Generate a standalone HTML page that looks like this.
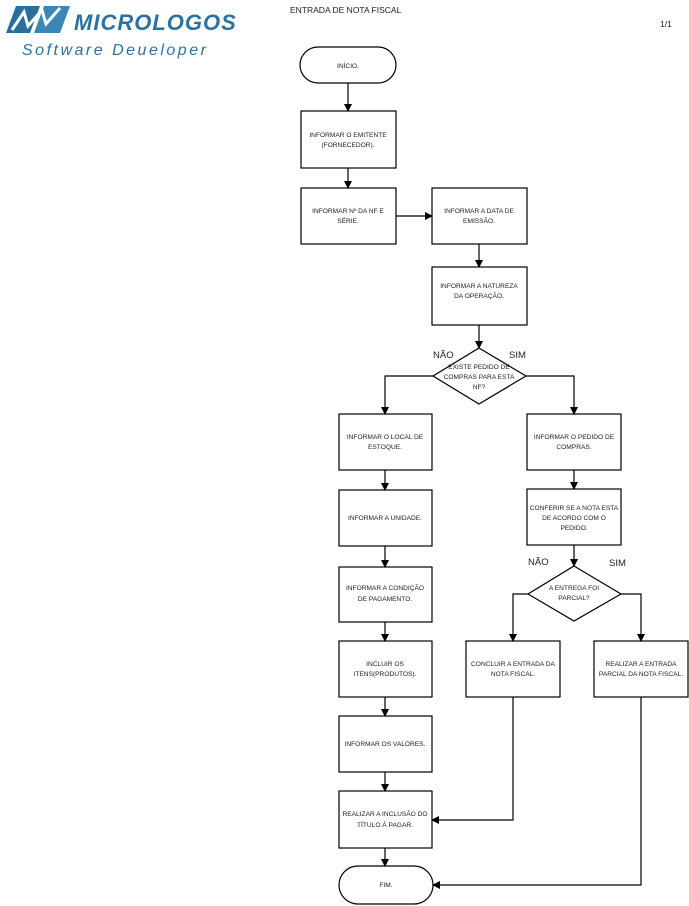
<!DOCTYPE html>
<html><head><meta charset="utf-8"><style>
html,body{margin:0;padding:0;background:#fff;width:689px;height:906px;overflow:hidden}
svg{display:block}
text{font-family:"Liberation Sans",sans-serif}
.b{font-size:6.6px;fill:#222}
</style></head><body>
<svg width="689" height="906" viewBox="0 0 689 906" xmlns="http://www.w3.org/2000/svg">
<defs><marker id="a" markerWidth="8" markerHeight="8" refX="7" refY="4" orient="auto" markerUnits="userSpaceOnUse"><path d="M0,0 L8,4 L0,8 z" fill="#000"/></marker></defs>
<!-- logo -->
<g>
<polygon points="16,6 40,6 30,33 6,33" fill="#2a6f99"/>
<polygon points="44,6 70,6 60,33 34,33" fill="#3b86b4"/>
<path d="M12,30 L24,12 L28,26 L42,10 L46,24 L60,8" stroke="#fff" stroke-width="3" fill="none"/>
<text x="74" y="30" font-size="22" font-weight="bold" font-style="italic" fill="#2a73a0" letter-spacing="1">MICROLOGOS</text>
<text x="22" y="55" font-size="16" font-style="italic" fill="#2a73a0" letter-spacing="2.5">Software Deueloper</text>
</g>
<text x="290" y="13" font-size="8.5" fill="#222">ENTRADA DE NOTA FISCAL</text>
<text x="660" y="27" font-size="8.5" fill="#222">1/1</text>
<g stroke="#000" stroke-width="1.2" fill="#fff">
<rect x="300" y="47" width="96" height="36" rx="18"/>
<rect x="301" y="111" width="95" height="57"/>
<rect x="301" y="188" width="95" height="56"/>
<rect x="432" y="188" width="95" height="56"/>
<rect x="432" y="267" width="95" height="58"/>
<polygon points="479,348 526,376 479,404 433,376"/>
<rect x="339" y="414" width="93" height="56"/>
<rect x="527" y="414" width="94" height="56"/>
<rect x="339" y="490" width="93" height="56"/>
<rect x="527" y="489" width="94" height="56"/>
<rect x="339" y="567" width="93" height="55"/>
<polygon points="574,566 621,594 574,621 528,594"/>
<rect x="339" y="641" width="93" height="56"/>
<rect x="466" y="641" width="94" height="56"/>
<rect x="594" y="641" width="94" height="56"/>
<rect x="339" y="716" width="93" height="56"/>
<rect x="339" y="791" width="93" height="57"/>
<rect x="339" y="866" width="94" height="38" rx="19"/>
</g>
<g stroke="#000" stroke-width="1.2" fill="none" marker-end="url(#a)">
<line x1="348" y1="83" x2="348" y2="111"/>
<line x1="348" y1="168" x2="348" y2="188"/>
<line x1="396" y1="216" x2="432" y2="216"/>
<line x1="479" y1="244" x2="479" y2="267"/>
<line x1="479" y1="325" x2="479" y2="348"/>
<polyline points="433,376 385,376 385,414"/>
<polyline points="526,376 574,376 574,414"/>
<line x1="385" y1="470" x2="385" y2="490"/>
<line x1="574" y1="470" x2="574" y2="489"/>
<line x1="385" y1="546" x2="385" y2="567"/>
<line x1="574" y1="545" x2="574" y2="566"/>
<line x1="385" y1="622" x2="385" y2="641"/>
<polyline points="528,594 513,594 513,641"/>
<polyline points="621,594 641,594 641,641"/>
<line x1="385" y1="697" x2="385" y2="716"/>
<line x1="385" y1="772" x2="385" y2="791"/>
<line x1="385" y1="848" x2="385" y2="866"/>
<polyline points="513,697 513,820 432,820"/>
<polyline points="641,697 641,885 433,885"/>
</g>
<g class="b" text-anchor="middle">
<text x="348" y="68">INÍCIO.</text>
<text x="348" y="137">INFORMAR O EMITENTE</text><text x="348" y="147">(FORNECEDOR).</text>
<text x="348" y="213">INFORMAR Nº DA NF E</text><text x="348" y="223">SÉRIE.</text>
<text x="479" y="213">INFORMAR A DATA DE</text><text x="479" y="223">EMISSÃO.</text>
<text x="479" y="288">INFORMAR A NATUREZA</text><text x="479" y="298">DA OPERAÇÃO.</text>
<text x="479" y="369">EXISTE PEDIDO DE</text><text x="479" y="379">COMPRAS PARA ESTA</text><text x="479" y="389">NF?</text>
<text x="385" y="439">INFORMAR O LOCAL DE</text><text x="385" y="449">ESTOQUE.</text>
<text x="574" y="439">INFORMAR O PEDIDO DE</text><text x="574" y="449">COMPRAS.</text>
<text x="385" y="520">INFORMAR A UNIDADE.</text>
<text x="574" y="510">CONFERIR SE A NOTA ESTA</text><text x="574" y="520">DE ACORDO COM O</text><text x="574" y="530">PEDIDO.</text>
<text x="385" y="590">INFORMAR A CONDIÇÃO</text><text x="385" y="601">DE PAGAMENTO.</text>
<text x="574" y="590">A ENTREGA FOI</text><text x="574" y="600">PARCIAL?</text>
<text x="385" y="666">INCLUIR OS</text><text x="385" y="676">ITENS(PRODUTOS).</text>
<text x="513" y="666">CONCLUIR A ENTRADA DA</text><text x="513" y="676">NOTA FISCAL.</text>
<text x="641" y="666">REALIZAR A ENTRADA</text><text x="641" y="676">PARCIAL DA NOTA FISCAL.</text>
<text x="385" y="746">INFORMAR OS VALORES.</text>
<text x="385" y="816">REALIZAR A INCLUSÃO DO</text><text x="385" y="827">TÍTULO Á PAGAR.</text>
<text x="386" y="887">FIM.</text>
</g>
<g font-size="9.5" fill="#222">
<text x="433" y="358">NÃO</text><text x="509" y="358">SIM</text>
<text x="528" y="565">NÃO</text><text x="609" y="566">SIM</text>
</g>
</svg>
</body></html>
